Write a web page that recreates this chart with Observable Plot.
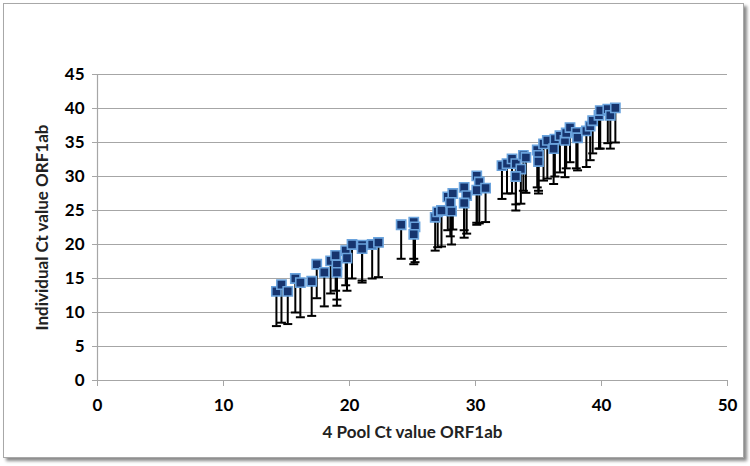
<!DOCTYPE html>
<html>
<head>
<meta charset="utf-8">
<script src="https://cdn.jsdelivr.net/npm/d3@7"></script>
<script src="https://cdn.jsdelivr.net/npm/@observablehq/plot@0.6"></script>
<style>
  html, body { margin: 0; padding: 0; background: white; }
  #wrap { position: relative; width: 750px; height: 466px; overflow: hidden; }
  #border { position: absolute; left: 3px; top: 3px; width: 739px; height: 453px;
            border: 1px solid #a8a8a8; box-shadow: 3px 3px 3px #8a8a8a; background: white; }
  #chart { position: absolute; left: 0; top: 0; }
</style>
</head>
<body>
<div id="wrap"><div id="border"></div><div id="chart"></div></div>
<script>
// 4 Pool Ct value (x), individual Ct value (y), lower end of error bar
const poolCt = [
  14.2, 14.6, 15.1, 15.7, 16.1, 17.0, 17.4, 18.0, 18.5, 18.9, 19.0, 19.0, 19.7, 19.8, 20.2, 21.0, 21.8, 22.3, 21.0,
  24.1, 25.1, 25.2, 25.1, 26.8, 27.0, 27.3, 28.1, 27.8, 28.2, 28.0,
  29.1, 29.3, 29.1, 30.1, 30.3, 30.1, 30.8,
  32.1, 32.5, 32.9, 33.2, 33.6, 33.2, 33.8, 34.0, 34.9, 35.0, 35.0, 35.4, 35.7, 36.2, 36.3, 36.7, 37.1, 37.2,
  37.5, 38.0, 38.1, 38.8, 39.1, 39.3, 39.8, 39.9, 40.5, 40.7, 41.1
];
const individualCt = [
  13.1, 14.1, 13.1, 15.0, 14.4, 14.6, 17.1, 15.9, 17.6, 18.4, 17.0, 15.9, 19.1, 18.0, 20.0, 19.9, 20.0, 20.3, 19.4,
  22.9, 23.3, 22.6, 21.5, 24.0, 24.8, 25.0, 24.9, 27.0, 27.5, 26.2,
  28.4, 27.2, 26.1, 30.1, 29.2, 28.0, 28.3,
  31.6, 31.9, 32.6, 31.9, 31.1, 30.0, 33.1, 32.8, 33.9, 33.1, 32.2, 34.8, 35.3, 34.1, 35.5, 36.0, 35.3, 36.4,
  37.2, 36.5, 35.7, 36.7, 37.4, 38.2, 39.0, 39.7, 39.9, 39.0, 40.1
];
const lowerCt = [
  8.0, 8.5, 8.3, 10.0, 9.3, 9.5, 12.1, 10.9, 12.8, 13.2, 11.9, 11.0, 14.0, 13.2, 15.0, 14.7, 15.0, 15.2, 14.4,
  17.9, 17.9, 17.4, 17.1, 19.1, 19.6, 19.7, 20.0, 22.1, 22.2, 21.2,
  22.1, 21.6, 21.0, 23.2, 23.1, 22.9, 23.3,
  26.7, 27.5, 27.5, 25.9, 26.0, 25.0, 27.9, 27.6, 28.4, 27.9, 27.5, 29.4, 29.7, 28.9, 30.0, 30.6, 29.9, 31.2,
  32.1, 31.2, 30.9, 31.4, 32.4, 33.4, 34.1, 34.1, 34.9, 34.1, 35.0
];
const xTicks = [0, 10, 20, 30, 40, 50];
const yTicks = [0, 5, 10, 15, 20, 25, 30, 35, 40, 45];
const xTitle = "4 Pool Ct value ORF1ab";
const yTitle = "Individual Ct value ORF1ab";

const data = poolCt.map((x, i) => ({x, y: individualCt[i], low: lowerCt[i]}));

const capSymbol = {
  draw(ctx) { ctx.moveTo(-4.5, 0); ctx.lineTo(4.5, 0); }
};

const font = "Lato, 'Open Sans', sans-serif";

const chart = Plot.plot({
  width: 750,
  height: 466,
  marginLeft: 97,
  marginRight: 23,
  marginTop: 74,
  marginBottom: 86,
  style: {background: "transparent", fontFamily: font, fontSize: "17px", fontWeight: "bold", color: "black"},
  x: {domain: [0, 50], ticks: xTicks},
  y: {domain: [0, 45], ticks: yTicks},
  marks: [
    Plot.gridY(yTicks, {stroke: "#a6a6a6", strokeOpacity: 1, strokeWidth: 1.2}),
    Plot.ruleX([0], {y1: 0, y2: 45, stroke: "#a6a6a6", strokeWidth: 1.2}),
    Plot.axisX({ticks: xTicks, tickSize: 6, stroke: "#a6a6a6", tickPadding: 12, fontSize: 17, fontWeight: "bold", label: null}),
    Plot.axisY({ticks: yTicks, tickSize: 5, stroke: "#a6a6a6", tickPadding: 8, fontSize: 17, fontWeight: "bold", label: null}),
    Plot.text([xTitle], {frameAnchor: "bottom", dy: 57, fontSize: 17, fontWeight: "bold", fill: "#222"}),
    Plot.text([yTitle], {frameAnchor: "left", textAnchor: "middle", dx: -55, rotate: -90, fontSize: 17, fontWeight: "bold", fill: "#222"}),
    Plot.ruleX(data, {x: "x", y1: "low", y2: "y", stroke: "black", strokeWidth: 2}),
    Plot.dot(data, {x: "x", y: "low", symbol: capSymbol, stroke: "black", strokeWidth: 2, fill: "none"}),
    Plot.dot(data, {x: "x", y: "y", symbol: "square", r: 5.2, fill: "#16346e", stroke: "#6aa3dd", strokeWidth: 1.6})
  ]
});
document.getElementById("chart").appendChild(chart);
</script>
</body>
</html>
